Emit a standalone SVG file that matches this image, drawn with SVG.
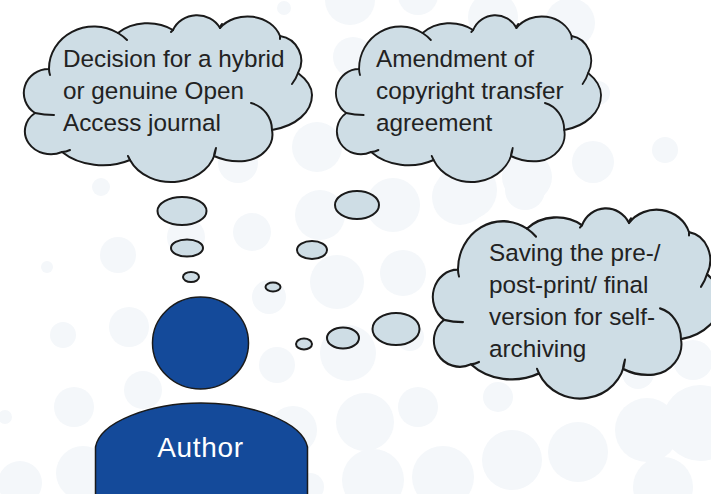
<svg xmlns="http://www.w3.org/2000/svg" width="711" height="494" viewBox="0 0 711 494">
<style>
.bg{fill:#f4f7fa}
.cl{fill:#cedde5;stroke:#1a1a1a;stroke-width:2;stroke-linecap:round;stroke-linejoin:round}
.ln{fill:none;stroke:#1a1a1a;stroke-width:2;stroke-linecap:round}
.t{font-family:"Liberation Sans",Arial,sans-serif;font-size:24.300px;fill:#222}
.blue{fill:#144a9a;stroke:#1a1a1a;stroke-width:1.5}
</style>
<defs>
<path id="shape" d="M49 69A25 24 0 0 0 35 113A26 23 0 0 0 62 152A56 42 0 0 0 130 160A45 37 0 0 0 216 148Q214 154 214 156C225 161 235 162 245 161C262 159 275 145 272 130C296 126 312 112 312 95C312 87 306 79 298 73A25 25 0 0 0 280 36A34 28 0 0 0 220 28A26 24 0 0 0 173 30A40 30 0 0 0 118 33A45 42 0 0 0 49 69Z"/>
<path id="inner" d="M49 69Q49 72 50 75M35 113Q44 115 54 115M62 152Q66 152 70 150M130 160Q129 158 128 156M272 130A28 28 0 0 0 251 103M298 73Q296 79 292 84M280 36L280 39M220 28Q220 26 222 24M173 30L171 32M118 33Q123 36 127 40"/>
</defs>
<rect width="711" height="494" fill="#fff"/>
<g id="background">
<circle class="bg" cx="284" cy="8" r="7"/><circle class="bg" cx="101" cy="187" r="9"/><circle class="bg" cx="317" cy="147" r="25"/><circle class="bg" cx="238" cy="163" r="20"/><circle class="bg" cx="320" cy="215" r="25"/><circle class="bg" cx="350" cy="0" r="25"/><circle class="bg" cx="418" cy="-5" r="20"/><circle class="bg" cx="570" cy="23" r="25"/><circle class="bg" cx="493" cy="17" r="25"/><circle class="bg" cx="353" cy="57" r="20"/><circle class="bg" cx="593" cy="162" r="21"/><circle class="bg" cx="665" cy="150" r="13"/><circle class="bg" cx="527" cy="177" r="25"/><circle class="bg" cx="467" cy="190" r="30"/><circle class="bg" cx="393" cy="205" r="27"/><circle class="bg" cx="598" cy="93" r="12"/><circle class="bg" cx="186" cy="237" r="19"/><circle class="bg" cx="252" cy="232" r="19"/><circle class="bg" cx="118" cy="255" r="18"/><circle class="bg" cx="47" cy="267" r="6"/><circle class="bg" cx="337" cy="282" r="27"/><circle class="bg" cx="403" cy="273" r="23"/><circle class="bg" cx="269" cy="297" r="17"/><circle class="bg" cx="129" cy="327" r="20"/><circle class="bg" cx="63" cy="335" r="13"/><circle class="bg" cx="277" cy="365" r="18"/><circle class="bg" cx="348" cy="353" r="28"/><circle class="bg" cx="143" cy="390" r="19"/><circle class="bg" cx="74" cy="407" r="20"/><circle class="bg" cx="5" cy="417" r="7"/><circle class="bg" cx="293" cy="430" r="24"/><circle class="bg" cx="365" cy="422" r="29"/><circle class="bg" cx="373" cy="480" r="31"/><circle class="bg" cx="20" cy="483" r="22"/><circle class="bg" cx="83" cy="473" r="27"/><circle class="bg" cx="418" cy="407" r="20"/><circle class="bg" cx="310" cy="487" r="14"/><circle class="bg" cx="460" cy="197" r="28"/><circle class="bg" cx="525" cy="190" r="20"/><circle class="bg" cx="498" cy="397" r="15"/><circle class="bg" cx="512" cy="460" r="30"/><circle class="bg" cx="578" cy="452" r="30"/><circle class="bg" cx="443" cy="477" r="31"/><circle class="bg" cx="647" cy="430" r="32"/><circle class="bg" cx="700" cy="423" r="38"/><circle class="bg" cx="663" cy="487" r="30"/><circle class="bg" cx="638" cy="373" r="16"/><circle class="bg" cx="693" cy="360" r="20"/><circle class="bg" cx="410" cy="337" r="14"/>
</g>
<g id="connectors">
<ellipse class="cl" cx="182" cy="211" rx="24.500" ry="14"/>
<ellipse class="cl" cx="187" cy="248" rx="16" ry="8.500"/>
<ellipse class="cl" cx="191" cy="277" rx="8" ry="5"/>
<ellipse class="cl" cx="357" cy="205" rx="22" ry="14"/>
<ellipse class="cl" cx="312" cy="250" rx="15" ry="9"/>
<ellipse class="cl" cx="273" cy="287" rx="7.500" ry="4.500"/>
<ellipse class="cl" cx="304" cy="344" rx="8" ry="5.500"/>
<ellipse class="cl" cx="343" cy="338" rx="16" ry="10.500"/>
<ellipse class="cl" cx="396" cy="329" rx="23.500" ry="16"/>
</g>
<g id="cloud-decision">
<use href="#shape" class="cl"/><use href="#inner" class="ln"/>
<text class="t" x="63" y="66.500">Decision for a hybrid</text>
<text class="t" x="63" y="98.500">or genuine Open</text>
<text class="t" x="63" y="130.500">Access journal</text>
</g>
<g id="cloud-amendment">
<g transform="translate(314 0) scale(.92 1)"><use href="#shape" class="cl"/><use href="#inner" class="ln"/></g>
<text class="t" x="376" y="66.500">Amendment of</text>
<text class="t" x="376" y="98.500">copyright transfer</text>
<text class="t" x="376" y="130.500">agreement</text>
</g>
<g id="cloud-saving">
<g transform="translate(409 191) scale(1 1.14)"><use href="#shape" class="cl"/><use href="#inner" class="ln"/></g>
<text class="t" x="489" y="261">Saving the pre-/</text>
<text class="t" x="489" y="293">post-print/ final</text>
<text class="t" x="489" y="325">version for self-</text>
<text class="t" x="489" y="357">archiving</text>
</g>
<g id="author">
<ellipse class="blue" cx="200.500" cy="343" rx="48" ry="46"/>
<path class="blue" d="M95.500 496V447C100 422 150 403 201 403C252 403 302 422 307.500 447V496Z"/>
<text x="200.500" y="457" text-anchor="middle" font-family="Liberation Sans,Arial,sans-serif" font-size="28" letter-spacing=".7" fill="#fff">Author</text>
</g>
</svg>
